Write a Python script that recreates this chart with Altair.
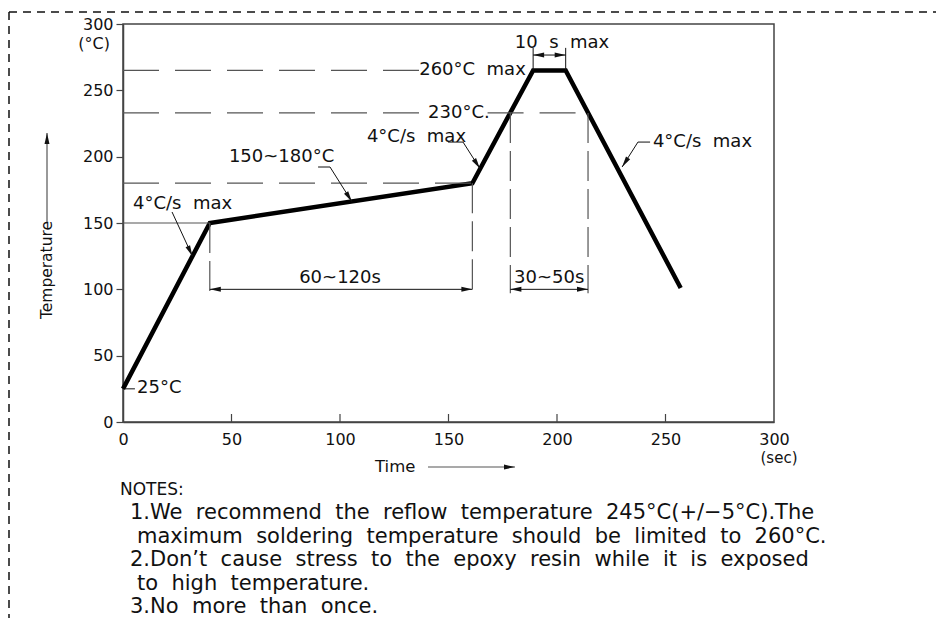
import altair as alt
import pandas as pd

NB = "\u00a0\u00a0"  # wide word spacing as in the drawing

# ---------------- data ----------------
profile_time = [0, 40, 161, 189, 204, 257]
profile_temp = [25, 150, 180, 265, 265, 101]

# dashed reference levels (horizontal)
level_temp = [265, 233, 233, 180]
level_from = [0, 0, 168, 0]
level_to = [136.5, 139, 214.3, 161]

# thin solid level at 150
soak_temp = [150]
soak_from = [0]
soak_to = [40]

# dashed extension lines (vertical)
ext_time = [40, 161, 178.5, 214.3]
ext_top = [150, 180, 233, 233]
ext_bottom = [97, 97, 97, 97]

# extension lines of the "10 s max" dimension
peak_time = [189, 204]
peak_from = [265, 265]
peak_to = [282, 282]

# dimension lines
dim_from = [40, 178.5, 189]
dim_to = [161, 214.3, 204]
dim_temp = [100, 100, 276.6]
dim_label = ["60~120s", "30~50s", "10" + NB + "s" + NB + "max"]
dim_label_time = [100, 196.4, 202.3]
dim_label_temp = [108.5, 108.5, 285.7]

# leader lines
lead_id = [1, 1, 2, 2, 2, 3, 3, 3, 4, 4, 4, 5, 5]
lead_time = [22.6, 32, 89.9, 95.4, 105.5, 149.8, 156.7, 164.5, 242.9, 237.3, 230, 1, 5.5]
lead_temp = [158.3, 125, 192.2, 192.2, 166, 211, 211, 191, 211, 211, 192.2, 25, 25]

# arrow heads (tip position and pointing direction in degrees, clockwise from up)
arrow_time = [32, 105.5, 164.5, 230, 40, 161, 178.5, 214.3, 189, 204]
arrow_temp = [125, 166, 191, 192.2, 100, 100, 100, 100, 276.6, 276.6]
arrow_dir = [155, 148, 147, 213, 270, 90, 270, 90, 270, 90]

# annotations
ann_text = ["4°C/s" + NB + "max", "150~180°C", "4°C/s" + NB + "max", "4°C/s" + NB + "max",
            "260°C" + NB + "max", "230°C.", "25°C"]
ann_time = [4.6, 48.8, 112.4, 244.2, 136.5, 140.6, 6.5]
ann_temp = [164.3, 199.7, 214.8, 211, 265.3, 233, 25.6]

tick_values = [0, 50, 100, 150, 200, 250, 300]
inner_ticks = [50, 100, 150, 200, 250]

notes_lines = [
    "NOTES:",
    "1.We recommend the reflow temperature 245°C(+/−5°C).The",
    "maximum soldering temperature should be limited to 260°C.",
    "2.Don’t cause stress to the epoxy resin while it is exposed",
    "to high temperature.",
    "3.No more than once.",
]
notes_indent = [0, 1, 2, 1, 2, 1]

# ---------------- layout ----------------
W, H = 651, 398
PAD_L, PAD_T, PAD_R, PAD_B = 115, 16, 162, 196
FONT = "DejaVu Sans"
INK = "#111111"
FRAME = "#444444"
DASH_C = "#555555"

xs = alt.Scale(domain=[0, 300], nice=False, zero=False)
ys = alt.Scale(domain=[0, 300], nice=False, zero=False)
x_axis = alt.Axis(values=tick_values, ticks=False, labelPadding=9, labelFontSize=16,
                  labelFont=FONT, labelColor=INK, domainColor=FRAME, domainWidth=1.5,
                  grid=False, labelFlush=False, labelOverlap=False, title=None)
y_axis = alt.Axis(values=tick_values, tickSize=7, tickColor=FRAME, tickWidth=1.2,
                  labelPadding=3, labelFontSize=16, labelFont=FONT, labelColor=INK,
                  domainColor=FRAME, domainWidth=1.5, grid=False, labelOverlap=False,
                  title=None)


def X(f):
    return alt.X(f"{f}:Q", scale=xs, axis=x_axis, title=None)


def Y(f):
    return alt.Y(f"{f}:Q", scale=ys, axis=y_axis, title=None)


ARROW = "M0,0L0.45,2L-0.45,2Z"

layers = []

# profile
prof = pd.DataFrame({"t": profile_time, "temp": profile_temp, "o": range(len(profile_time))})
layers.append(alt.Chart(prof).mark_line(color="black", strokeWidth=4.5, strokeJoin="miter")
              .encode(x=X("t"), y=Y("temp"), order="o:Q"))

# dashed levels
lv = pd.DataFrame({"t": level_from, "t2": level_to, "temp": level_temp})
layers.append(alt.Chart(lv).mark_rule(color=DASH_C, strokeWidth=1.2, strokeDash=[36, 16])
              .encode(x=X("t"), x2=alt.X2("t2"), y=Y("temp")))

sk = pd.DataFrame({"t": soak_from, "t2": soak_to, "temp": soak_temp})
layers.append(alt.Chart(sk).mark_rule(color=DASH_C, strokeWidth=1.2)
              .encode(x=X("t"), x2=alt.X2("t2"), y=Y("temp")))

ex = pd.DataFrame({"t": ext_time, "temp": ext_top, "temp2": ext_bottom})
layers.append(alt.Chart(ex).mark_rule(color=DASH_C, strokeWidth=1.2, strokeDash=[30, 8])
              .encode(x=X("t"), y=Y("temp"), y2=alt.Y2("temp2")))

pk = pd.DataFrame({"t": peak_time, "temp": peak_from, "temp2": peak_to})
layers.append(alt.Chart(pk).mark_rule(color=INK, strokeWidth=1)
              .encode(x=X("t"), y=Y("temp"), y2=alt.Y2("temp2")))

dm = pd.DataFrame({"t": dim_from, "t2": dim_to, "temp": dim_temp})
layers.append(alt.Chart(dm).mark_rule(color=INK, strokeWidth=1)
              .encode(x=X("t"), x2=alt.X2("t2"), y=Y("temp")))

ld = pd.DataFrame({"id": lead_id, "t": lead_time, "temp": lead_temp, "o": range(len(lead_id))})
layers.append(alt.Chart(ld).mark_line(color=INK, strokeWidth=1)
              .encode(x=X("t"), y=Y("temp"), detail="id:N", order="o:Q"))

ar = pd.DataFrame({"t": arrow_time, "temp": arrow_temp, "ang": arrow_dir})
layers.append(alt.Chart(ar).mark_point(shape=ARROW, filled=True, opacity=1, size=121,
                                       color=INK, strokeWidth=0)
              .encode(x=X("t"), y=Y("temp"), angle=alt.Angle("ang:Q", scale=None)))

an = pd.DataFrame({"t": ann_time, "temp": ann_temp, "txt": ann_text})
layers.append(alt.Chart(an).mark_text(align="left", baseline="middle", font=FONT,
                                      fontSize=18, color=INK)
              .encode(x=X("t"), y=Y("temp"), text="txt:N"))

dl = pd.DataFrame({"t": dim_label_time, "temp": dim_label_temp, "txt": dim_label})
layers.append(alt.Chart(dl).mark_text(align="center", baseline="middle", font=FONT,
                                      fontSize=18, color=INK)
              .encode(x=X("t"), y=Y("temp"), text="txt:N"))

# inward ticks of the time axis
it = pd.DataFrame({"t": inner_ticks})
layers.append(alt.Chart(it).mark_rule(color=FRAME, strokeWidth=1.2)
              .encode(x=X("t"), y=alt.value(H), y2=alt.value(H - 8)))

one = pd.DataFrame({"k": [0]})


def txt(s, x, y, size=16, align="left", angle=0, baseline="middle"):
    return alt.Chart(one).mark_text(align=align, baseline=baseline, font=FONT, fontSize=size,
                                    color=INK, angle=angle).encode(
        x=alt.value(x), y=alt.value(y), text=alt.value(s))


def rule(x, y, x2=None, y2=None, dash=None, color=INK, width=1.0):
    enc = {"x": alt.value(x), "y": alt.value(y)}
    if x2 is not None:
        enc["x2"] = alt.value(x2)
    if y2 is not None:
        enc["y2"] = alt.value(y2)
    kw = {"color": color, "strokeWidth": width}
    if dash:
        kw["strokeDash"] = dash
    return alt.Chart(one).mark_rule(**kw).encode(**enc)


def head(x, y, ang):
    return alt.Chart(one).mark_point(shape=ARROW, filled=True, opacity=1, size=121,
                                     color=INK, strokeWidth=0).encode(
        x=alt.value(x), y=alt.value(y), angle=alt.value(ang))


# unit labels
layers.append(txt("(°C)", -13, 19.5, align="right"))
layers.append(txt("(sec)", 656, 434, size=15, align="center"))

# axis titles with arrows
layers.append(txt("Temperature", -76, 246, size=15.5, align="center", angle=270))
layers.append(rule(-76, 109, y2=198, color="#555555", width=1.2))
layers.append(head(-76, 109, 0))
layers.append(txt("Time", 252, 443, size=16.5))
layers.append(rule(305, 443, x2=392, color="#555555", width=1.2))
layers.append(head(392, 443, 90))

# notes
indent_px = [-3, 7, 14]
for i, line in enumerate(notes_lines):
    s = line if i == 0 else line.replace(" ", NB)
    layers.append(txt(s, indent_px[notes_indent[i]], 466 + i * 23.4,
                      size=17 if i == 0 else 21))

# dashed page border
layers.append(rule(-114, -12, x2=W + PAD_R, dash=[8, 6], width=1.5))
layers.append(rule(-114, -12, y2=H + PAD_B, dash=[8, 6], width=1.5))

chart = alt.layer(*layers).properties(
    width=W, height=H,
    padding={"left": PAD_L, "top": PAD_T, "right": PAD_R, "bottom": PAD_B},
    autosize=alt.AutoSizeParams(type="none"),
).configure_view(stroke=FRAME, strokeWidth=1.5)

chart.save("out.html", embed_options={"renderer": "svg", "actions": False})
